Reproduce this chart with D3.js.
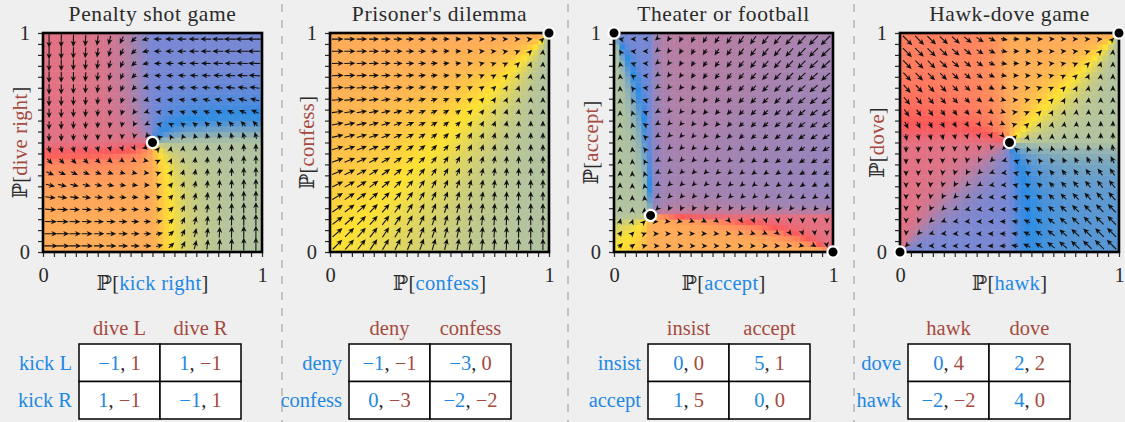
<!DOCTYPE html>
<html lang="en">
<head>
<meta charset="UTF-8">
<title>Best-response flow in four 2x2 games</title>
<script src="https://d3js.org/d3.v7.min.js"></script>
<style>
  body { margin: 0; background: #efefef; }
  svg { display: block; font-family: "Liberation Serif", "DejaVu Serif", serif; }
</style>
</head>
<body>
<svg id="chart" width="1125" height="422"></svg>
<script>
// ---- data -------------------------------------------------------------
const titles = ["Penalty shot game", "Prisoner's dilemma", "Theater or football", "Hawk-dove game"];
const xLabels = ["kick right", "confess", "accept", "hawk"];
const yLabels = ["dive right", "confess", "accept", "dove"];
const rowStrategies = [["kick L", "kick R"], ["deny", "confess"], ["insist", "accept"], ["dove", "hawk"]];
const colStrategies = [["dive L", "dive R"], ["deny", "confess"], ["insist", "accept"], ["hawk", "dove"]];
// payoff of the row (blue) player and of the column (red) player
const rowPayoffs = [[[-1, 1], [1, -1]], [[-1, -3], [0, -2]], [[0, 5], [1, 0]], [[0, 2], [-2, 4]]];
const colPayoffs = [[[1, -1], [-1, 1]], [[-1, 0], [-3, -2]], [[0, 1], [5, 0]], [[4, 2], [-2, 0]]];
const equilibria = [[[0.5, 0.5]], [[1, 1]], [[0, 1], [0.167, 0.167], [1, 0]], [[0, 0], [0.5, 0.5], [1, 1]]];
const tickLabels = [0, 1];

// ---- layout -----------------------------------------------------------
const plotLeft = [43, 330, 614, 900], plotTop = 33, size = 219;
const tableLeft = [79, 349, 648, 908], tableTop = 344, cellW = 81, cellH = 37.5;
const separators = [282, 568, 854];
const blue = "#1e88e5", red = "#a54a3e", ink = "#2a2a2a";
// colour of the flow direction (angle in degrees, counter-clockwise from "right")
const dirStops = [
  [0, "#ffac58"], [45, "#ffe232"], [90, "#b2c3a0"], [135, "#5896d4"], [152, "#2a8ce4"],
  [180, "#7888d4"], [225, "#a583b0"], [270, "#e27284"], [298, "#fc5858"], [315, "#ff7d5f"], [360, "#ffac58"]
];
const arrowN = 18, bgN = 40;

const svg = d3.select("#chart");

svg.selectAll(".sep").data(separators).join("line")
  .attr("x1", d => d).attr("x2", d => d).attr("y1", 4).attr("y2", 422)
  .attr("stroke", "#aaa").attr("stroke-width", 1.3).attr("stroke-dasharray", "8,8");

// Brown-von Neumann-Nash style flow from the payoff tables
function excess(p, gain) {
  return gain > 0 ? (1 - p) * (1 - p) * gain : -p * p * (-gain);
}
function flow(g, x, y) {
  const A = rowPayoffs[g], B = colPayoffs[g];
  const gx = ((1 - y) * A[1][0] + y * A[1][1]) - ((1 - y) * A[0][0] + y * A[0][1]);
  const gy = ((1 - x) * B[0][1] + x * B[1][1]) - ((1 - x) * B[0][0] + x * B[1][0]);
  return [excess(x, gx), excess(y, gy)];
}
const dirScale = d3.scaleLinear().domain(dirStops.map(d => d[0])).range(dirStops.map(d => d[1]))
  .interpolate(d3.interpolateRgb);
function dirColor(vx, vy) {
  const a = (Math.atan2(vy, vx) * 180 / Math.PI + 360) % 360;
  return dirScale(a);
}
const fmt = v => v < 0 ? "\u2212" + Math.abs(v) : String(v);

titles.forEach((title, g) => {
  const x = d3.scaleLinear().domain([0, 1]).range([plotLeft[g], plotLeft[g] + size]);
  const y = d3.scaleLinear().domain([0, 1]).range([plotTop + size, plotTop]);
  const panel = svg.append("g");

  panel.append("clipPath").attr("id", "clip" + g)
    .append("rect").attr("x", x(0)).attr("y", y(1)).attr("width", size).attr("height", size);

  // background coloured by flow direction
  const cells = [];
  d3.range(bgN).forEach(i => d3.range(bgN).forEach(j => {
    const v = flow(g, (i + 0.5) / bgN, (j + 0.5) / bgN);
    cells.push({ i, j, c: dirColor(v[0], v[1]) });
  }));
  panel.append("g").attr("clip-path", `url(#clip${g})`)
    .selectAll("rect").data(cells).join("rect")
    .attr("x", d => x(d.i / bgN)).attr("y", d => y((d.j + 1) / bgN))
    .attr("width", size / bgN + 0.5).attr("height", size / bgN + 0.5)
    .attr("fill", d => d.c);

  // arrows
  const arrows = [];
  d3.range(arrowN).forEach(i => d3.range(arrowN).forEach(j => {
    const px = (i + 0.5) / arrowN, py = (j + 0.5) / arrowN;
    const v = flow(g, px, py);
    arrows.push({ px, py, vx: v[0], vy: v[1], m: Math.hypot(v[0], v[1]) });
  }));
  const len = d3.scalePow().exponent(0.42).domain([0, d3.max(arrows, d => d.m)]).range([0, 13.5]);
  const ag = panel.append("g").attr("clip-path", `url(#clip${g})`);
  arrows.filter(d => d.m > 1e-9).forEach(d => {
    const ux = d.vx / d.m, uy = -d.vy / d.m, L = Math.max(len(d.m), 3);
    const sx = x(d.px), sy = y(d.py);
    const tx = sx + 0.65 * L * ux, ty = sy + 0.65 * L * uy;
    const bx = sx - 0.35 * L * ux, by = sy - 0.35 * L * uy;
    if (L > 4.5) {
      ag.append("line").attr("x1", bx).attr("y1", by)
        .attr("x2", tx - 3 * ux).attr("y2", ty - 3 * uy)
        .attr("stroke", "#111").attr("stroke-width", 1.1);
    }
    ag.append("path").attr("d", "M0,0L-6,-2.7L-4.3,0L-6,2.7Z")
      .attr("fill", "#111")
      .attr("transform", `translate(${tx},${ty}) rotate(${Math.atan2(uy, ux) * 180 / Math.PI})`);
  });

  // axes
  const ticks = d3.range(21).map(k => k / 20);
  const tf = v => tickLabels.includes(v) ? String(v) : "";
  const ax = panel.append("g").attr("transform", `translate(0,${y(0)})`)
    .call(d3.axisBottom(x).tickValues(ticks).tickFormat(tf).tickSize(5).tickPadding(10));
  const ay = panel.append("g").attr("transform", `translate(${x(0)},0)`)
    .call(d3.axisLeft(y).tickValues(ticks).tickFormat(tf).tickSize(5).tickPadding(8));
  [ax, ay].forEach(a => {
    a.select(".domain").remove();
    a.selectAll("line").attr("stroke", ink).attr("stroke-width", 1.2);
    a.selectAll("text").attr("fill", ink).style("font-size", "20.5px")
      .style("font-family", '"Liberation Serif", serif');
  });

  panel.append("rect").attr("x", x(0)).attr("y", y(1)).attr("width", size).attr("height", size)
    .attr("fill", "none").attr("stroke", "#000").attr("stroke-width", 2.6);

  panel.selectAll(".eq").data(equilibria[g]).join("circle")
    .attr("cx", d => x(d[0])).attr("cy", d => y(d[1])).attr("r", 5.6)
    .attr("fill", "#000").attr("stroke", "#fff").attr("stroke-width", 2.2);

  // titles and axis labels
  const mid = x(0.5);
  panel.append("text").attr("x", mid).attr("y", 21).attr("text-anchor", "middle")
    .attr("fill", ink).style("font-size", "21.5px").style("letter-spacing", "0.6px").text(title);

  const xl = panel.append("text").attr("x", mid).attr("y", 290).attr("text-anchor", "middle")
    .style("font-size", "20.5px").style("letter-spacing", "0.3px");
  xl.append("tspan").attr("fill", ink).text("\u2119[");
  xl.append("tspan").attr("fill", blue).text(xLabels[g]);
  xl.append("tspan").attr("fill", ink).text("]");

  const yl = panel.append("text").attr("transform", `translate(${x(0) - 16},${y(0.5)}) rotate(-90)`)
    .attr("text-anchor", "middle").style("font-size", "20.5px").style("letter-spacing", "0.3px");
  yl.append("tspan").attr("fill", ink).text("\u2119[");
  yl.append("tspan").attr("fill", red).text(yLabels[g]);
  yl.append("tspan").attr("fill", ink).text("]");

  // payoff table
  const tl = tableLeft[g];
  const tg = panel.append("g").style("font-size", "20.5px");
  colStrategies[g].forEach((s, c) => {
    tg.append("text").attr("x", tl + cellW * (c + 0.5)).attr("y", tableTop - 9)
      .attr("text-anchor", "middle").attr("fill", red).text(s);
  });
  rowStrategies[g].forEach((s, r) => {
    tg.append("text").attr("x", tl - 7).attr("y", tableTop + cellH * (r + 0.5) + 7)
      .attr("text-anchor", "end").attr("fill", blue).text(s);
    [0, 1].forEach(c => {
      tg.append("rect").attr("x", tl + cellW * c).attr("y", tableTop + cellH * r)
        .attr("width", cellW).attr("height", cellH)
        .attr("fill", "#fff").attr("stroke", "#000").attr("stroke-width", 1.5);
      const t = tg.append("text").attr("x", tl + cellW * (c + 0.5)).attr("y", tableTop + cellH * (r + 0.5) + 7)
        .attr("text-anchor", "middle");
      t.append("tspan").attr("fill", blue).text(fmt(rowPayoffs[g][r][c]));
      t.append("tspan").attr("fill", ink).text(", ");
      t.append("tspan").attr("fill", red).text(fmt(colPayoffs[g][r][c]));
    });
  });
});
</script>
</body>
</html>
